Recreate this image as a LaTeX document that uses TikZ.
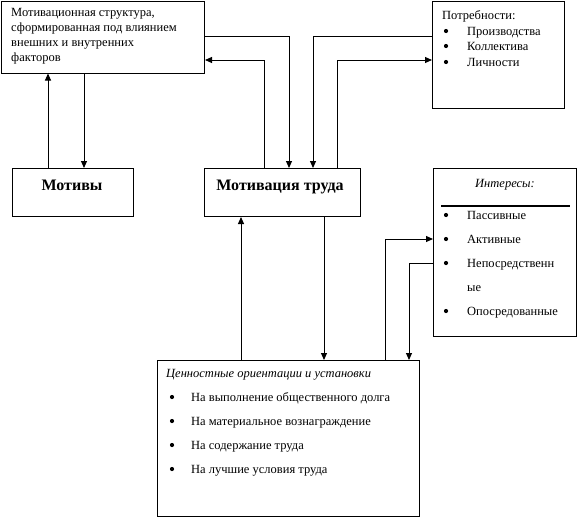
\documentclass[tikz,border=0pt]{standalone}
\usepackage{fontspec}
\setmainfont{Liberation Serif}
\usetikzlibrary{arrows.meta}
\begin{document}
\begin{tikzpicture}[x=1pt,y=-1pt,
  box/.style={draw, line width=1pt, anchor=north west, inner sep=0pt},
  conn/.style={line width=1pt, -{Triangle[length=7pt,width=6pt]}},
  txt/.style={font=\fontsize{12.5}{15}\selectfont, inner sep=0pt, anchor=base west},
  big/.style={font=\fontsize{16}{19}\selectfont\bfseries, inner sep=0pt, anchor=base},
  bul/.style={circle, fill, inner sep=0pt, minimum size=4.2pt}]
\useasboundingbox (0,0) rectangle (577,517);
% boxes
\node[box, minimum width=203.5pt, minimum height=72pt] (struct) at (0.5,0.5) {};
\node[box, minimum width=121pt, minimum height=48pt] (motivy) at (12,168) {};
\node[box, minimum width=156pt, minimum height=48pt] (motiv) at (204,168) {};
\node[box, minimum width=132pt, minimum height=107pt] (needs) at (432,1) {};
\node[box, minimum width=143pt, minimum height=168pt] (inter) at (433,168) {};
\node[box, minimum width=262pt, minimum height=155.5pt] (values) at (157,360) {};
% texts
\node[font=\fontsize{12.5}{15}\selectfont, inner sep=0pt, anchor=north west, align=left] (structtxt) at (11,8)
  {Мотивационная структура,\\сформированная под влиянием\\внешних и внутренних\\факторов};
\node[big] (motivytxt) at (72,190) {Мотивы};
\node[big] (motivtxt) at (280,190) {Мотивация труда};
\node[txt] (needst) at (442,19) {Потребности:};
\foreach \y/\t [count=\i] in {35/Производства,50/Коллектива,66/Личности}{
  \node[bul] (nb\i) at (446,\y-4) {};
  \node[txt] (nt\i) at (467,\y) {\t};
}
\node[inner sep=0pt, anchor=base, font=\fontsize{12.5}{15}\selectfont\itshape] (intert) at (505,187) {Интересы:};
\draw[line width=2pt] (inter.west |- 0,206) ++(8,0) -- ([xshift=-7pt]inter.east |- 0,206);
\foreach \y/\t [count=\i] in {219/Пассивные,243/Активные,267/Непосредственн,315/Опосредованные}{
  \node[bul] (ib\i) at (446,\y-4) {};
  \node[txt] (it\i) at (467,\y) {\t};
}
\node[txt] (it5) at (467,291) {ые};
\node[txt, font=\fontsize{12.5}{15}\selectfont\itshape] (valt) at (166,377) {Ценностные ориентации и установки};
\foreach \y/\t [count=\i] in {401/На выполнение общественного долга,425/На материальное вознаграждение,449/На содержание труда,473/На лучшие условия труда}{
  \node[bul] (vb\i) at (172,\y-4) {};
  \node[txt] (vt\i) at (191,\y) {\t};
}
% connectors
\draw[conn] (motivy.north -| 48,0) -- (struct.south -| 48,0);
\draw[conn] (struct.south -| 84,0) -- (motivy.north -| 84,0);
\draw[conn] (struct.east |- 0,36) -| (motiv.north -| 289,0);
\draw[conn] (motiv.north -| 264,0) |- (struct.east |- 0,60);
\draw[conn] (needs.west |- 0,36) -| (motiv.north -| 313,0);
\draw[conn] (motiv.north -| 337,0) |- (needs.west |- 0,60);
\draw[conn] (values.north -| 241,0) -- (motiv.south -| 241,0);
\draw[conn] (motiv.south -| 324,0) -- (values.north -| 324,0);
\draw[conn] (values.north -| 385,0) |- (inter.west |- 0,239);
\draw[conn] (inter.west |- 0,263) -| (values.north -| 409,0);
\end{tikzpicture}
\end{document}
